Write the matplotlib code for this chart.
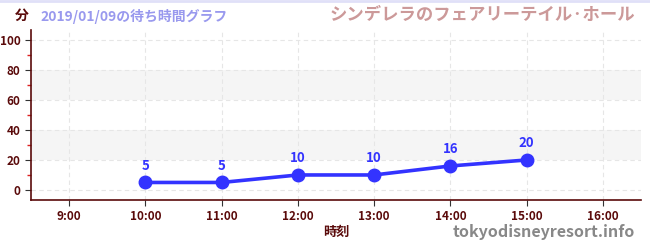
import matplotlib
matplotlib.use("Agg")
import matplotlib.pyplot as plt

plt.rcParams['font.family'] = ['Noto Sans CJK JP', 'DejaVu Sans']

hours = [10, 11, 12, 13, 14, 15]
waits = [5, 5, 10, 10, 16, 20]
xticks = [9, 10, 11, 12, 13, 14, 15, 16]
xlabels = ['9:00', '10:00', '11:00', '12:00', '13:00', '14:00', '15:00', '16:00']
yticks = [0, 20, 40, 60, 80, 100]

dark = '#5a0a0a'
blue = '#3333ff'

fig = plt.figure(figsize=(6.5, 2.5), dpi=100)
ax = fig.add_axes([0.0477, 0.2, 0.9385, 0.68])

# shaded bands
for lo, hi in [(20, 40), (60, 80)]:
    ax.axhspan(lo, hi, color='#f5f5f5', zorder=0, lw=0)

ax.plot(hours, waits, color=blue, lw=2.6, marker='o', ms=9, zorder=3)
for h, w in zip(hours, waits):
    ax.annotate(str(w), (h, w), xytext=(0, 7), textcoords='offset points',
                ha='center', va='bottom', color=blue, fontsize=9.5, fontweight='bold')

ax.set_xlim(8.5, 16.5)
ax.set_ylim(-6.7, 106.7)
ax.set_xticks(xticks)
ax.set_xticklabels(xlabels)
ax.set_yticks(yticks)
ax.set_yticks(range(10, 100, 20), minor=True)
ax.tick_params(axis='y', which='minor', length=3, color='#dd2222', width=1)
ax.tick_params(axis='both', which='major', length=4, color='#333333', labelcolor=dark, labelsize=8.5)
for lbl in ax.get_xticklabels() + ax.get_yticklabels():
    lbl.set_fontweight('bold')

ax.grid(True, which='major', color='#e6e6e6', ls=(0, (4, 3)), lw=0.8)
ax.set_axisbelow(True)
for s in ['top', 'right']:
    ax.spines[s].set_visible(False)
for s in ['left', 'bottom']:
    ax.spines[s].set_color(dark)
    ax.spines[s].set_linewidth(1.2)

ax.set_xlabel('時刻', color=dark, fontsize=9.5, fontweight='bold', labelpad=1)

fig.text(0.034, 0.935, '分', color=dark, fontsize=10, fontweight='bold', ha='center', va='center')
fig.text(0.062, 0.935, '2019/01/09の待ち時間グラフ', color='#9999ee', fontsize=10,
         fontweight='bold', ha='left', va='center')
fig.text(0.978, 0.94, 'シンデレラのフェアリーテイル·ホール', color='#cc9999', fontsize=12.5,
         fontweight='bold', ha='right', va='center')
fig.text(0.977, 0.07, 'tokyodisneyresort.info', color='#888888', fontsize=11.5,
         fontweight='bold', ha='right', va='center')

# thin top border
fig.add_artist(plt.Line2D([0, 1], [0.996, 0.996], color='#e0e0f8', lw=2))

fig.savefig('out.png', dpi=100)
